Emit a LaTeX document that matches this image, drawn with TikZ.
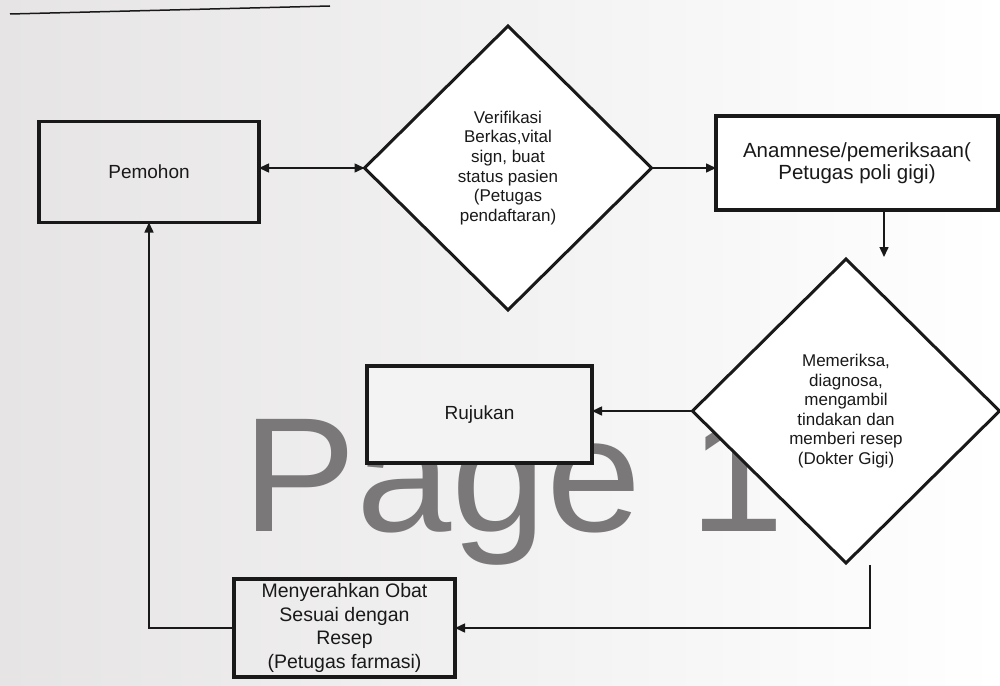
\documentclass[tikz,border=0pt]{standalone}
\usepackage{fontspec}
\setmainfont{Liberation Sans}
\usetikzlibrary{shapes.geometric,arrows.meta}
\definecolor{bgl}{RGB}{230,228,229}
\definecolor{wm}{RGB}{122,120,120}
\definecolor{ink}{RGB}{25,25,25}
\begin{document}
\begin{tikzpicture}[x=1pt,y=-1pt,
  box/.style={draw=ink, rectangle, line width=3.5pt, inner sep=0pt, outer sep=0pt,
    align=center, text=ink, font=\fontsize{19}{23}\selectfont},
  dia/.style={draw=ink, diamond, line width=3pt, fill=white, inner sep=0pt, outer sep=0pt,
    align=center, text=ink, font=\fontsize{17}{19.6}\selectfont},
  conn/.style={draw=ink, line width=1.5pt, -{Triangle[length=10pt,width=9pt]}},
  dconn/.style={draw=ink, line width=1.5pt, {Triangle[length=10pt,width=9pt]}-{Triangle[length=10pt,width=9pt]}}
]
\useasboundingbox (0,0) rectangle (1000,685);
\shade[left color=bgl, right color=white] (0,0) rectangle (1000,685);
\draw[draw=ink, line width=1.5pt] (10,14) -- (330,6);

% watermark
\node[anchor=base west, text=wm, inner sep=0pt, xscale=1.05, font=\fontsize{163}{163}\selectfont] (wmk) at (242,531) {Page 1};

% boxes
\node[box, minimum width=220pt, minimum height=101pt] (pemohon) at (149,172) {Pemohon};
\node[box, fill=white, minimum width=282pt, minimum height=94pt, font=\fontsize{20.5}{22}\selectfont] (anam) at (857,163) {Anamnese/pemeriksaan(\\Petugas poli gigi)};
\node[box, fill=bgl!45!white, minimum width=225pt, minimum height=97pt] (rujukan) at (479.5,414.5) {Rujukan};
\node[box, minimum width=221pt, minimum height=98pt, font=\fontsize{19.5}{23.5}\selectfont] (menyer) at (344.5,628) {Menyerahkan Obat\\Sesuai dengan\\Resep\\(Petugas farmasi)};

% diamonds
\node[dia, minimum width=287pt, minimum height=284pt] (d1) at (508,168) {Verifikasi\\Berkas,vital\\sign, buat\\status pasien\\(Petugas\\pendaftaran)};
\node[dia, minimum width=307pt, minimum height=304pt] (d2) at (846,411) {Memeriksa,\\diagnosa,\\mengambil\\tindakan dan\\memberi resep\\(Dokter Gigi)};

% connectors
\coordinate (d2in) at (884,257);
\coordinate (d2out) at (870,565);
\draw[dconn] (d1.west -| pemohon.east) -- (d1.west);
\draw[conn] (d1.east) -- (d1.east -| anam.west);
\draw[conn] (anam.south -| d2in) -- (d2in);
\draw[conn] (d2.west) -- (d2.west -| rujukan.east);
\draw[conn] (d2out) |- (menyer.east);
\draw[conn] (menyer.west) -| (pemohon.south);
\end{tikzpicture}
\end{document}
